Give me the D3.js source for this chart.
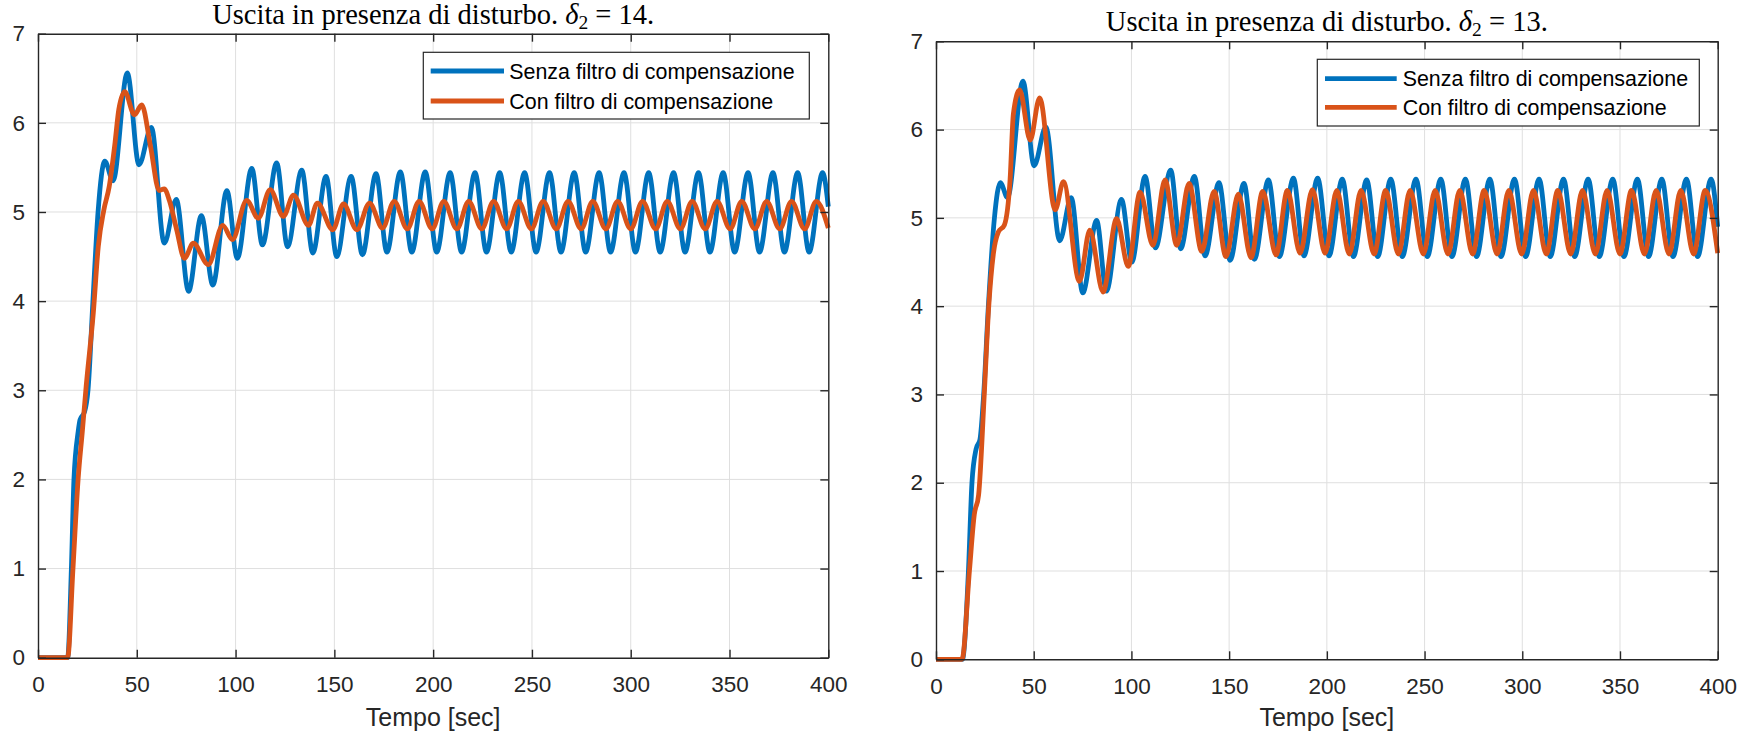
<!DOCTYPE html>
<html>
<head>
<meta charset="utf-8">
<script src="https://cdn.jsdelivr.net/npm/d3@7"></script>
<style>
  html, body { margin: 0; padding: 0; background: #fff; }
  svg { display: block; }
</style>
</head>
<body>
<svg id="chart" width="1752" height="735"></svg>
<script>
// ---------------- DATA ----------------
const xTickValues = [0, 50, 100, 150, 200, 250, 300, 350, 400];
const yTickValues = [0, 1, 2, 3, 4, 5, 6, 7];
const legendLabels = ["Senza filtro di compensazione", "Con filtro di compensazione"];
const titleLeft = { pre: "Uscita in presenza di disturbo. ", value: "14" };
const titleRight = { pre: "Uscita in presenza di disturbo. ", value: "13" };
const xLabel = "Tempo [sec]";

// Left plot (delta2 = 14): [time, output]
const leftBlue = [[0,0],[15,0],[16.9,1],[18.2,2],[20.3,2.53],[21.3,2.67],[23.6,2.76],[25.3,3],[27.8,4],[30.4,5],
  [33.8,5.57],[38.0,5.35],[45.2,6.56],[51.1,5.53],[57.4,5.95],[63.9,4.65],[70.0,5.14],[76.2,4.11],[82.7,4.96],[88.5,4.18],
  [95.6,5.24],[100.9,4.48],[108.2,5.49],[113.6,4.63],[120.8,5.55],[126.3,4.61],[133.5,5.47],[139.1,4.54],[145.8,5.40],[151.2,4.50],
  [158.5,5.40],[164.2,4.52],[171.1,5.43],[176.6,4.55],[183.4,5.45],[189.2,4.55],[196.0,5.45],[201.8,4.55],[208.6,5.44],[214.4,4.55],
  [221.2,5.44],[227.0,4.55],[233.7,5.44],[239.5,4.55],[246.3,5.44],[252.1,4.55],[258.9,5.44],[264.7,4.55],[271.4,5.44],[277.2,4.55],
  [284.0,5.44],[289.8,4.55],[296.6,5.44],[302.4,4.55],[309.1,5.44],[314.9,4.55],[321.7,5.44],[327.5,4.55],[334.3,5.44],[340.1,4.55],
  [346.8,5.44],[352.6,4.55],[359.4,5.44],[365.2,4.55],[372.0,5.44],[377.8,4.55],[384.5,5.44],[390.3,4.55],[397.1,5.44],[400,5.06]];
const leftOrange = [[0,0],[15,0],[17.7,1],[20.3,2],[22.4,2.53],[24.4,3.05],[28.0,3.87],[30.5,4.61],[33.3,5.02],[36.0,5.28],
  [39.0,5.78],[40.9,6.15],[43.9,6.35],[48.8,6.09],[52.5,6.20],[57.0,5.73],[61.3,5.24],[63.9,5.26],[66.5,5.13],[70.2,4.80],
  [74.1,4.48],[78.6,4.65],[86.2,4.41],[93.5,4.85],[98.4,4.69],[105.6,5.13],[111.5,4.93],[117.5,5.25],[124.2,4.95],[129.3,5.19],
  [136.9,4.85],[141.4,5.10],[149.2,4.80],[154.6,5.09],[161.4,4.80],[167.8,5.10],[174.4,4.82],[180.3,5.12],[186.9,4.81],[192.9,5.12],
  [199.5,4.81],[205.4,5.12],[212.0,4.81],[218.0,5.12],[224.6,4.81],[230.6,5.12],[237.2,4.81],[243.1,5.12],[249.7,4.81],[255.7,5.12],
  [262.3,4.81],[268.3,5.12],[274.9,4.81],[280.8,5.12],[287.4,4.81],[293.4,5.12],[300.0,4.81],[306.0,5.12],[312.6,4.81],[318.5,5.12],
  [325.1,4.81],[331.1,5.12],[337.7,4.81],[343.7,5.12],[350.3,4.81],[356.2,5.12],[362.8,4.81],[368.8,5.12],[375.4,4.81],[381.4,5.12],
  [388.0,4.81],[393.9,5.12],[400,4.82]];

// Right plot (delta2 = 13): [time, output]
const rightBlue = [[0,0],[13.5,0],[16.6,1],[18.4,2],[20.5,2.38],[22.5,2.49],[24.4,3],[26.8,4],[29.9,5],[32.9,5.40],
  [36.6,5.23],[44.5,6.55],[50.2,5.59],[56.2,6.03],[63.3,4.74],[69.2,5.23],[75.1,4.15],[82.2,4.97],[87.2,4.17],[94.9,5.21],
  [100.2,4.50],[107.0,5.47],[112.3,4.66],[120.1,5.54],[125.2,4.65],[132.2,5.47],[137.7,4.57],[144.8,5.40],[150.5,4.52],[157.6,5.39],
  [162.9,4.53],[170.1,5.43],[175.7,4.56],[182.9,5.45],[188.3,4.57],[195.3,5.45],[201.1,4.57],[207.9,5.44],[213.6,4.56],[220.4,5.43],
  [226.0,4.56],[232.7,5.44],[238.6,4.56],[245.6,5.44],[251.4,4.56],[258.3,5.44],[264.0,4.56],[270.9,5.44],[276.6,4.56],[283.4,5.44],
  [289.1,4.56],[296.0,5.44],[301.7,4.56],[308.6,5.44],[314.3,4.56],[321.1,5.44],[326.8,4.56],[333.7,5.44],[339.4,4.56],[346.3,5.44],
  [352.0,4.56],[358.9,5.44],[364.6,4.56],[371.4,5.44],[377.1,4.56],[384.0,5.44],[389.7,4.56],[396.6,5.44],[400,4.90]];
const rightOrange = [[0,0],[13.3,0],[17.1,1],[19.6,1.64],[21.8,1.86],[24.7,3],[27.0,4],[29.4,4.6],[31.9,4.84],[35.0,4.92],
  [37.9,5.43],[39.6,6.18],[42.8,6.45],[48.2,5.88],[53.0,6.36],[61.0,5.09],[65.2,5.41],[73.4,4.28],[78.7,4.86],[85.5,4.16],
  [92.4,4.99],[98.4,4.45],[104.4,5.29],[111.0,4.69],[117.2,5.43],[123.2,4.69],[129.5,5.39],[136.0,4.62],[142.3,5.30],[148.4,4.56],
  [154.7,5.27],[161.2,4.55],[167.2,5.30],[174.0,4.58],[179.8,5.31],[186.3,4.60],[192.6,5.32],[199.1,4.60],[205.1,5.31],[211.5,4.59],
  [217.5,5.31],[224.2,4.59],[230.1,5.31],[236.6,4.59],[242.6,5.31],[249.4,4.59],[255.4,5.31],[262.0,4.59],[268.0,5.31],[274.6,4.59],
  [280.5,5.31],[287.1,4.59],[293.1,5.31],[299.7,4.59],[305.7,5.31],[312.3,4.59],[318.2,5.31],[324.8,4.59],[330.8,5.31],[337.4,4.59],
  [343.4,5.31],[350.0,4.59],[355.9,5.31],[362.5,4.59],[368.5,5.31],[375.1,4.59],[381.1,5.31],[387.7,4.59],[393.6,5.31],[400,4.60]];

// ---------------- STYLE / LAYOUT ----------------
const colors = ["#0072BD", "#D95319"];
const axisColor = "#262626";
const gridColor = "#dfdfdf";
const sans = "'Liberation Sans', Arial, Helvetica, sans-serif";
const serif = "'Liberation Serif', 'Times New Roman', serif";

const panels = [
  { x0: 38, x1: 828.3, yTop: 33.7, yBot: 657.7, titleY: 23.5, title: titleLeft,
    series: [leftBlue, leftOrange],
    legend: { x: 423.3, y: 52.3, w: 386, h: 66.7, lx0: 430.7, lx1: 504, tx: 509.3, rows: [71, 101] } },
  { x0: 936, x1: 1717.7, yTop: 41.3, yBot: 659.3, titleY: 30.5, title: titleRight,
    series: [rightBlue, rightOrange],
    legend: { x: 1317.3, y: 59.3, w: 382, h: 66.7, lx0: 1325, lx1: 1396.7, tx: 1402.7, rows: [78.7, 107.3] } }
];

const svg = d3.select("#chart");
svg.append("rect").attr("width", 1752).attr("height", 735).attr("fill", "#fff");

panels.forEach(p => {
  const x = d3.scaleLinear().domain([0, 400]).range([p.x0, p.x1]);
  const y = d3.scaleLinear().domain([0, 7]).range([p.yBot, p.yTop]);
  const g = svg.append("g");

  // grid
  g.append("g").selectAll("line").data(xTickValues.slice(1, -1)).join("line")
    .attr("x1", d => x(d)).attr("x2", d => x(d)).attr("y1", p.yTop).attr("y2", p.yBot)
    .attr("stroke", gridColor).attr("stroke-width", 1);
  g.append("g").selectAll("line").data(yTickValues.slice(1, -1)).join("line")
    .attr("y1", d => y(d)).attr("y2", d => y(d)).attr("x1", p.x0).attr("x2", p.x1)
    .attr("stroke", gridColor).attr("stroke-width", 1);

  // series
  const line = d3.line().x(d => x(d[0])).y(d => y(d[1])).curve(d3.curveMonotoneX);
  p.series.forEach((s, i) => {
    g.append("path").datum(s).attr("d", line)
      .attr("fill", "none").attr("stroke", colors[i]).attr("stroke-width", 4.8)
      .attr("stroke-linejoin", "round").attr("stroke-linecap", "butt");
  });

  // axes
  const styleAxis = sel => {
    sel.select(".domain").attr("stroke", axisColor).attr("stroke-width", 1.4);
    sel.selectAll(".tick line").attr("stroke", axisColor).attr("stroke-width", 1.4);
    sel.selectAll(".tick text").attr("fill", axisColor).attr("font-family", sans).attr("font-size", 22.5);
  };
  const fmt = d3.format("d");
  g.append("g").attr("transform", `translate(0,${p.yBot})`)
    .call(d3.axisBottom(x).tickValues(xTickValues).tickFormat(fmt).tickSizeInner(-8).tickSizeOuter(0).tickPadding(18.5))
    .call(styleAxis);
  g.append("g").attr("transform", `translate(0,${p.yTop})`)
    .call(d3.axisTop(x).tickValues(xTickValues).tickSizeInner(-8).tickSizeOuter(0).tickFormat(""))
    .call(styleAxis);
  g.append("g").attr("transform", `translate(${p.x0},0)`)
    .call(d3.axisLeft(y).tickValues(yTickValues).tickFormat(fmt).tickSizeInner(-8).tickSizeOuter(0).tickPadding(13))
    .call(styleAxis);
  g.append("g").attr("transform", `translate(${p.x1},0)`)
    .call(d3.axisRight(y).tickValues(yTickValues).tickSizeInner(-8).tickSizeOuter(0).tickFormat(""))
    .call(styleAxis);
  g.selectAll(".domain").attr("fill", "none");

  // x label
  g.append("text").attr("x", (p.x0 + p.x1) / 2).attr("y", 726)
    .attr("text-anchor", "middle").attr("font-family", sans).attr("font-size", 25)
    .attr("fill", axisColor).text(xLabel);

  // title
  const t = g.append("text").attr("x", (p.x0 + p.x1) / 2).attr("y", p.titleY)
    .attr("text-anchor", "middle").attr("font-family", serif).attr("font-size", 28.5).attr("fill", "#000");
  t.append("tspan").text(p.title.pre);
  t.append("tspan").attr("font-style", "italic").text("δ");
  t.append("tspan").attr("font-size", 19.5).attr("dy", 5).text("2");
  t.append("tspan").attr("dy", -5).text(" = " + p.title.value + ".");

  // legend
  const L = p.legend;
  g.append("rect").attr("x", L.x).attr("y", L.y).attr("width", L.w).attr("height", L.h)
    .attr("fill", "#fff").attr("stroke", axisColor).attr("stroke-width", 1.2);
  legendLabels.forEach((lab, i) => {
    g.append("line").attr("x1", L.lx0).attr("x2", L.lx1).attr("y1", L.rows[i]).attr("y2", L.rows[i])
      .attr("stroke", colors[i]).attr("stroke-width", 4.8);
    g.append("text").attr("x", L.tx).attr("y", L.rows[i] + 7.6)
      .attr("font-family", sans).attr("font-size", 21.4).attr("fill", "#000").text(lab);
  });
});
</script>
</body>
</html>
